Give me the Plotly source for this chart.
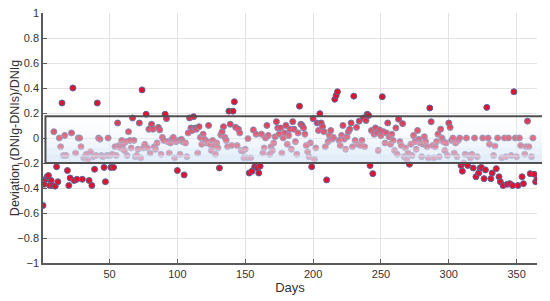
import numpy as np
import plotly.graph_objects as go

# deviation of DNI (one value per day)
days = list(range(1, 366))
deviation = [
    -0.54, -0.37, -0.33, -0.31, -0.30, -0.38, -0.34, -0.38, 0.05, -0.385,
    -0.23, -0.35, 0.00, -0.07, 0.28, -0.14, 0.02, -0.14, -0.26, -0.38,
    -0.32, 0.04, 0.40, -0.34, -0.12, -0.33, 0.00, 0.00, -0.07, -0.33,
    -0.16, -0.15, -0.13, -0.18, -0.34, -0.11, -0.38, -0.15, -0.25, -0.14,
    0.28, 0.00, -0.01, -0.14, -0.15, -0.235, -0.35, -0.14, 0.00, -0.14,
    -0.235, -0.13, -0.235, -0.07, -0.14, 0.12, -0.06, -0.08, -0.02, -0.05,
    -0.10, -0.03, -0.14, 0.05, -0.02, -0.08, 0.16, -0.02, -0.15, -0.14,
    -0.09, 0.12, -0.16, 0.385, -0.08, -0.05, 0.19, -0.08, 0.07, -0.12,
    0.11, 0.07, -0.07, -0.09, -0.04, 0.085, 0.065, -0.13, 0.005, -0.02,
    0.19, 0.155, -0.03, -0.12, -0.04, -0.01, 0.005, -0.16, -0.03, -0.26,
    -0.02, -0.13, -0.01, -0.03, -0.295, -0.04, -0.15, 0.04, 0.16, 0.08,
    0.06, 0.17, 0.08, 0.07, -0.12, 0.09, 0.005, -0.05, 0.03, -0.01,
    -0.04, -0.03, 0.10, -0.05, -0.10, -0.02, -0.06, -0.13, -0.04, -0.08,
    -0.24, 0.025, 0.05, 0.09, 0.005, -0.02, -0.07, 0.215, 0.11, -0.06,
    0.215, 0.29, 0.085, -0.06, 0.07, 0.04, -0.10, -0.105, -0.16, -0.09,
    -0.16, -0.005, -0.28, -0.16, -0.265, 0.065, -0.23, 0.03, -0.24, -0.28,
    -0.225, 0.03, -0.12, -0.08, 0.00, 0.10, 0.02, -0.13, -0.07, -0.10,
    -0.04, 0.01, 0.13, 0.08, 0.03, 0.08, -0.12, 0.00, 0.04, 0.10,
    -0.05, 0.02, 0.07, -0.09, 0.13, 0.07, -0.03, -0.13, 0.04, 0.255,
    0.11, 0.10, 0.08, 0.03, -0.06, -0.11, -0.15, -0.04, -0.23, 0.155,
    -0.17, -0.08, 0.12, 0.06, 0.195, 0.12, 0.09, 0.05, -0.07, -0.335,
    -0.03, 0.02, 0.06, -0.01, 0.005, 0.31, 0.34, 0.37, -0.02, -0.06,
    0.02, 0.10, -0.01, -0.09, 0.01, 0.05, 0.07, 0.12, -0.07, 0.335,
    -0.02, 0.085, -0.05, 0.135, -0.06, -0.02, 0.16, -0.07, 0.14, 0.19,
    0.18, -0.22, 0.06, -0.285, 0.03, 0.08, 0.04, -0.10, 0.065, 0.02,
    0.33, 0.05, -0.04, 0.04, 0.12, 0.01, -0.05, 0.03, -0.02, -0.10,
    0.08, -0.13, 0.15, -0.03, -0.06, 0.115, -0.15, -0.08, -0.17, -0.12,
    -0.21, -0.05, -0.14, 0.02, -0.03, -0.09, 0.06, -0.01, -0.04, -0.15,
    -0.05, 0.01, -0.03, -0.07, -0.16, 0.24, 0.13, -0.06, -0.16, -0.07,
    -0.03, 0.03, -0.15, 0.07, 0.00, -0.03, -0.10, -0.04, -0.14, 0.12,
    0.085, -0.02, 0.00, -0.12, -0.04, -0.15, -0.02, 0.00, -0.22, -0.265,
    -0.20, -0.13, 0.00, -0.22, -0.14, -0.16, -0.13, -0.24, 0.00, -0.31,
    -0.15, -0.28, -0.24, -0.235, 0.00, -0.325, -0.255, 0.245, 0.00, -0.05,
    -0.325, -0.28, -0.14, -0.065, -0.245, 0.00, -0.31, -0.35, -0.16, -0.38,
    0.00, -0.15, -0.37, 0.00, -0.365, -0.14, -0.38, 0.37, 0.00, -0.15,
    -0.38, 0.00, -0.06, -0.31, -0.365, -0.13, -0.07, 0.135, -0.07, -0.285,
    -0.15, 0.00, -0.29, -0.35, -0.33,
]

# acceptance band drawn over the points
band_low = -0.2
band_high = 0.175

X_RANGE = [1, 365]
Y_RANGE = [-1, 1]

fig = go.Figure()
fig.add_trace(go.Scatter(
    x=days, y=deviation, mode='markers',
    marker=dict(size=6, color='#e5102b', line=dict(color='#55689f', width=1)),
    showlegend=False,
))


def to_paper(v):
    return (v - Y_RANGE[0]) / (Y_RANGE[1] - Y_RANGE[0])


# gradient overlay built from thin strips (white-ish on top, light blue at bottom)
n_strips = 40
top_rgb = np.array([247, 250, 254])
bot_rgb = np.array([216, 230, 248])
edges = np.linspace(band_high, band_low, n_strips + 1)
shapes = []
for i in range(n_strips):
    t = (i + 0.5) / n_strips
    rgb = (top_rgb + (bot_rgb - top_rgb) * t).astype(int)
    alpha = 0.1 + 0.88 * t ** 1.2
    shapes.append(dict(
        type='rect', xref='paper', yref='paper', layer='above',
        x0=0.005, x1=1.016, y0=to_paper(edges[i + 1]), y1=to_paper(edges[i]),
        line=dict(width=0),
        fillcolor=f'rgba({rgb[0]},{rgb[1]},{rgb[2]},{alpha:.3f})',
    ))
shapes.append(dict(
    type='rect', xref='paper', yref='paper', layer='above',
    x0=0.005, x1=1.016, y0=to_paper(band_low), y1=to_paper(band_high),
    line=dict(color='#505050', width=2), fillcolor='rgba(0,0,0,0)',
))

axis_style = dict(
    showgrid=True, gridcolor='#e3e3e3', gridwidth=1,
    showline=True, linecolor='#5a5a5a', linewidth=1.5,
    ticks='inside', ticklen=4, tickcolor='#5a5a5a',
    zeroline=False, automargin=False, ticklabeloverflow='allow',
    tickfont=dict(size=11, color='#333333'),
)

# page body keeps its default 8px margin, so the figure is sized to fit the window
fig.update_layout(
    width=542, height=293,
    margin=dict(l=35, r=13, t=5, b=38),
    paper_bgcolor='white', plot_bgcolor='white',
    font=dict(family='Liberation Sans, Arial, sans-serif', color='#333333'),
    shapes=shapes,
    xaxis=dict(range=X_RANGE, tickvals=[50, 100, 150, 200, 250, 300, 350],
               title=dict(text='Days', font=dict(size=13), standoff=4), **axis_style),
    yaxis=dict(range=Y_RANGE, dtick=0.2, tick0=0,
               title=dict(text='Deviation (DNIg-DNIs)/DNIg', font=dict(size=12.5), standoff=2),
               **axis_style),
)

fig.write_html("out.html")
